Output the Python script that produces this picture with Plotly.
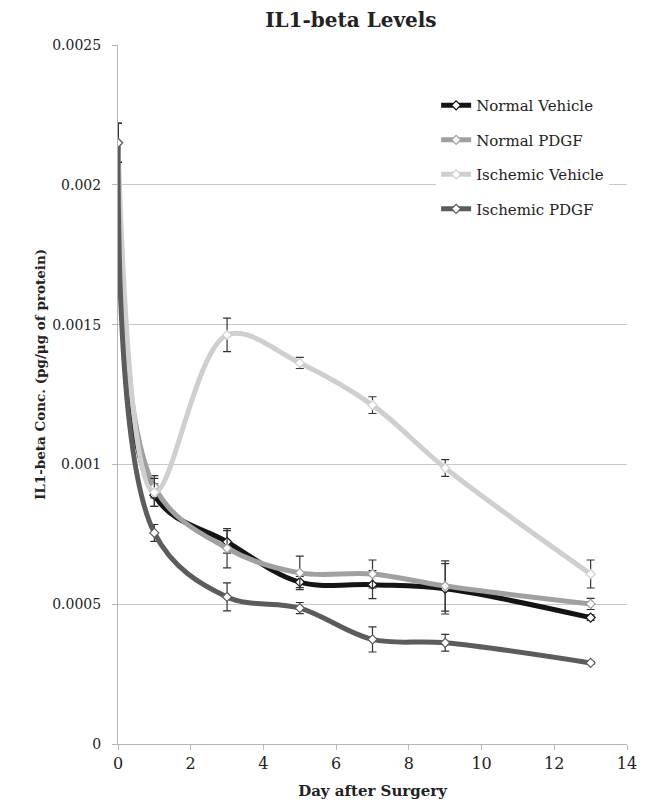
import plotly.graph_objects as go

days = [0, 1, 3, 5, 7, 9, 13]
series_names = ["Normal Vehicle", "Normal PDGF", "Ischemic Vehicle", "Ischemic PDGF"]
normal_vehicle = [0.00215, 0.00089, 0.000723, 0.000579, 0.000570, 0.000555, 0.000452]
normal_pdgf = [0.00215, 0.00092, 0.000700, 0.000612, 0.000608, 0.000565, 0.000501]
ischemic_vehicle = [0.00215, 0.00090, 0.001463, 0.001363, 0.001212, 0.000987, 0.000608]
ischemic_pdgf = [0.00215, 0.000755, 0.000526, 0.000486, 0.000374, 0.000362, 0.000290]

err_normal_vehicle = [0.00007, 0.00004, 0.00004, 0.00002, 0.00005, 0.00009, 0.00001]
err_normal_pdgf = [0.00007, 0.00004, 0.00007, 0.00006, 0.00005, 0.00009, 0.00002]
err_ischemic_vehicle = [0.00007, 0.00005, 0.00006, 0.00002, 0.00003, 0.00003, 0.00005]
err_ischemic_pdgf = [0.00007, 0.00003, 0.00005, 0.00002, 0.000045, 0.00003, 0.000005]

colors = ["#141414", "#a0a0a0", "#cfcfcf", "#5c5c5c"]
values = [normal_vehicle, normal_pdgf, ischemic_vehicle, ischemic_pdgf]
errors = [err_normal_vehicle, err_normal_pdgf, err_ischemic_vehicle, err_ischemic_pdgf]

y_ticks = [0, 0.0005, 0.001, 0.0015, 0.002, 0.0025]
y_tick_text = ["0", "0.0005", "0.001", "0.0015", "0.002", "0.0025"]
x_ticks = [0, 2, 4, 6, 8, 10, 12, 14]

SERIF = "DejaVu Serif"
TXT = "#222222"

fig = go.Figure()
for i, (name, vals, errs, col) in enumerate(zip(series_names, values, errors, colors)):
    fig.add_trace(go.Scatter(
        x=days, y=vals, name=name, mode="lines+markers",
        line=dict(color=col, width=5, shape="spline", smoothing=1.0),
        marker=dict(symbol="diamond", size=7, color="white", line=dict(color=col, width=1.2)),
        error_y=dict(type="data", array=errs, visible=True, color="#333333", thickness=1.2, width=4),
        legendgroup=name,
    ))

fig.update_layout(
    width=651, height=804,
    margin=dict(l=118, r=24, t=45, b=60),
    paper_bgcolor="white", plot_bgcolor="white",
    title=dict(text="<b>IL1-beta Levels</b>", x=0.539, xanchor="center", y=0.975, yanchor="middle",
               font=dict(family=SERIF, size=20, color=TXT)),
    font=dict(family=SERIF, size=14, color=TXT),
    legend=dict(x=0.625, y=0.937, xanchor="left", yanchor="top", bgcolor="white",
                font=dict(family=SERIF, size=15, color=TXT),
                tracegroupgap=12, traceorder="grouped"),
    showlegend=True,
    annotations=[dict(text="<b>IL1-beta Conc. (pg/μg of protein)</b>", textangle=-90,
                      xref="paper", yref="paper", x=-0.153, y=0.528,
                      xanchor="center", yanchor="middle", showarrow=False,
                      font=dict(family=SERIF, size=13.5, color=TXT))],
)
fig.update_xaxes(range=[0, 14], tickvals=x_ticks, showgrid=False, showline=True, automargin=False,
                 linecolor="#b5b5b5", linewidth=1, ticks="outside", tickcolor="#b5b5b5",
                 ticklen=5, zeroline=False, tickfont=dict(family=SERIF, size=16, color=TXT),
                 title=dict(text="<b>Day after Surgery</b>", standoff=13,
                            font=dict(family=SERIF, size=15, color=TXT)))
fig.update_yaxes(range=[0, 0.0025], tickvals=y_ticks, ticktext=y_tick_text, showgrid=True,
                 automargin=False,
                 gridcolor="#c8c8c8", gridwidth=1, showline=True, linecolor="#b5b5b5",
                 ticks="outside", tickcolor="#b5b5b5", ticklen=5, zeroline=False,
                 ticklabelstandoff=8, tickfont=dict(family=SERIF, size=14, color=TXT))

fig.write_html("out.html")
